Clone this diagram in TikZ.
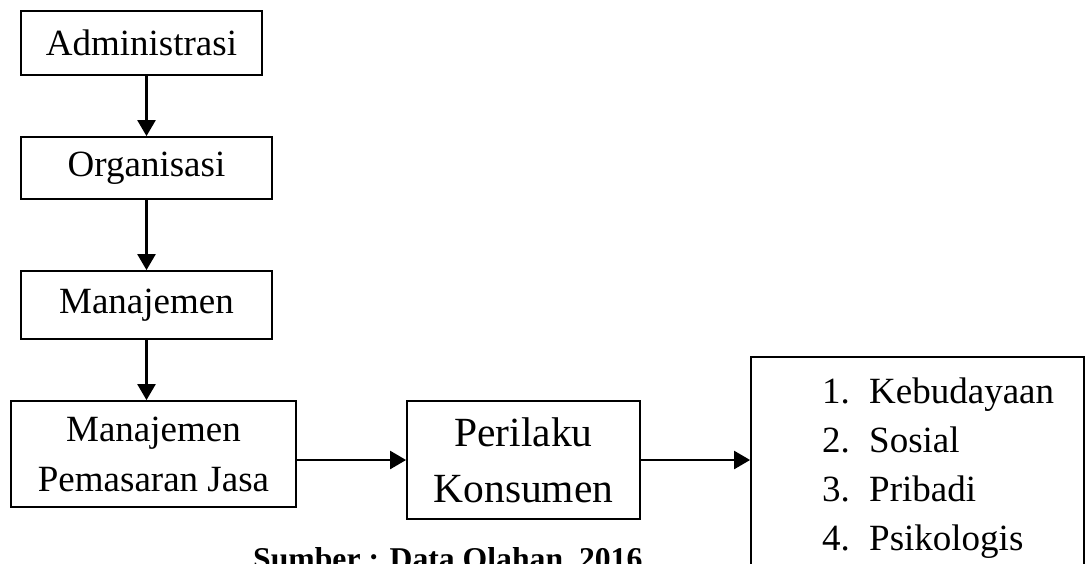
\documentclass[tikz,border=0pt]{standalone}
\usepackage{fontspec}
\setmainfont{Liberation Serif}
\usetikzlibrary{arrows.meta}
\begin{document}
\begin{tikzpicture}[x=1pt,y=-1pt,
  box/.style={draw, line width=1.8pt, inner sep=0pt, align=center, font=\fontsize{37}{50}\selectfont},
  arr/.style={line width=2.4pt, -{Triangle[length=16pt,width=18pt]}},
  item/.style={anchor=base west, inner sep=0pt, font=\fontsize{37}{49}\selectfont},
  caption/.style={anchor=base west, inner sep=0pt, font=\bfseries\fontsize{31.7}{38}\selectfont}]
\useasboundingbox (0,0) rectangle (1090,563);
\node[box, minimum width=241pt, minimum height=64pt] (adm) at (141.5,43) {Administrasi};
\node[box, minimum width=251pt, minimum height=62pt] (org) at (146.5,168) {Organisasi};
\node[box, minimum width=251pt, minimum height=68pt] (man) at (146.5,305) {Manajemen};
\node[box, minimum width=285pt, minimum height=106pt] (mpj) at (153.5,454) {Manajemen\\Pemasaran Jasa};
\node[box, minimum width=233pt, minimum height=118pt, font=\fontsize{41.5}{56}\selectfont] (pk) at (523.5,460) {Perilaku\\Konsumen};
\node[box, minimum width=333pt, minimum height=263pt] (lst) at (917.5,488.5) {};
\node[item] (i1) at (822,403) {\makebox[47pt][l]{1.}Kebudayaan};
\node[item] (i2) at (822,452) {\makebox[47pt][l]{2.}Sosial};
\node[item] (i3) at (822,501) {\makebox[47pt][l]{3.}Pribadi};
\node[item] (i4) at (822,550) {\makebox[47pt][l]{4.}Psikologis};
\node[caption] (src) at (253,569.5) {Sumber : Data Olahan, 2016};
\draw[arr] (adm.south -| org.north) -- (org.north);
\draw[arr] (org.south) -- (man.north);
\draw[arr] (man.south) -- (man.south |- mpj.north);
\draw[arr] (mpj.east |- pk.west) -- (pk.west);
\draw[arr] (pk.east) -- (pk.east -| lst.west);
\end{tikzpicture}
\end{document}
